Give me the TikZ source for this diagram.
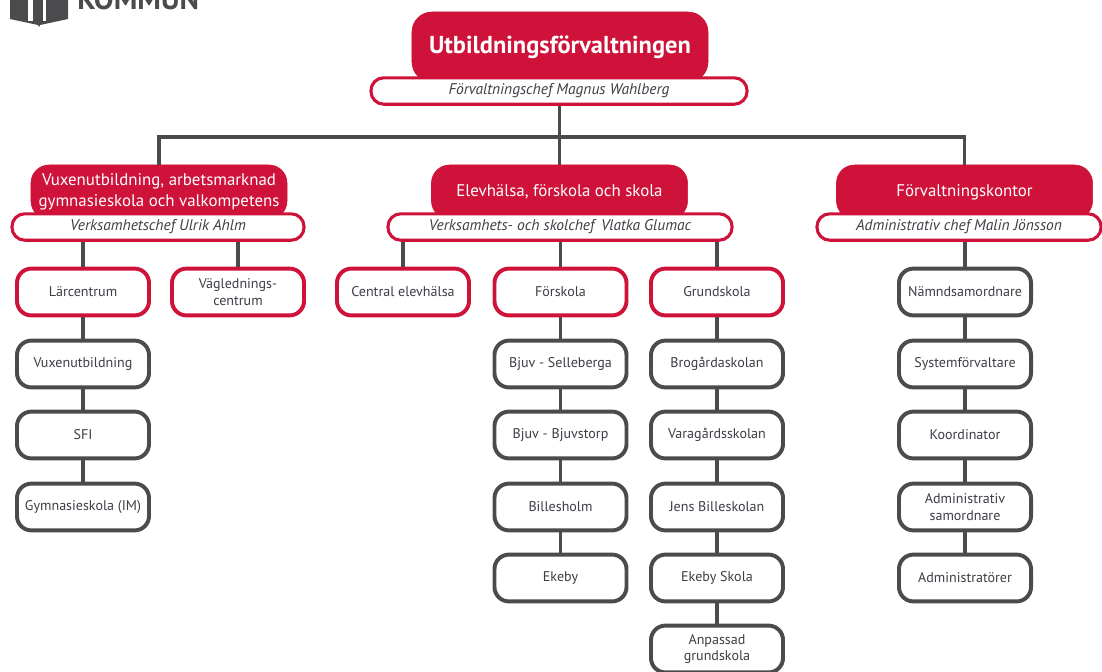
\documentclass[tikz,border=0pt]{standalone}
\usepackage{fontspec}
\setmainfont{PT Sans}
\usepackage{xcolor}
\usepackage{tikz}
\usetikzlibrary{calc}
\usetikzlibrary{positioning}
\definecolor{kred}{HTML}{CE1239}
\definecolor{kgray}{HTML}{4B4B4D}
\definecolor{ktext}{HTML}{3E3E46}
\tikzstyle{head} = [rectangle, rounded corners=.45cm, fill=kred, draw=kred, text=white, align=center, inner sep=0pt, minimum width=6.4cm, minimum height=1.35cm, font=\fontsize{12}{14.8}\selectfont, yshift=-.05cm]
\tikzstyle{chef} = [rectangle, rounded corners=.32cm, fill=white, draw=kred, line width=2.2pt, text=ktext, inner sep=0pt, minimum height=.66cm, font=\fontsize{11}{13}\selectfont\itshape]
\tikzstyle{unit} = [rectangle, rounded corners=.36cm, fill=white, line width=2.8pt, text=ktext, align=center, inner sep=0pt, minimum width=3.3cm, minimum height=1.17cm, font=\fontsize{10}{11.6}\selectfont]
\tikzstyle{unitred} = [unit, draw=kred]
\tikzstyle{unitgray} = [unit, draw=kgray]
\tikzstyle{conn} = [-, draw=kgray, line width=2.8pt]
\tikzstyle{bar} = [-, draw=kgray, line width=2.2pt]
\begin{document}
\begin{tikzpicture}[x=.025cm, y=-.025cm]
\useasboundingbox (0,0) rectangle (1102,671);
\clip (0,0) rectangle (1102,671);
% logo
\fill [kgray] (10,-5) -- (10,19) -- (38,25) -- (39,27) -- (40,25) -- (68,19) -- (68,-5) -- cycle;
\fill [white] (28,-5) rectangle (33,21);
\fill [white] (43,-5) rectangle (46,21);
\node [text=kgray, font=\fontsize{21}{24}\selectfont\bfseries, anchor=base west, inner sep=0pt] (logo) at (77,9) {KOMMUN};
% top
\node [head, minimum width=7.4cm, minimum height=1.75cm, rounded corners=.5cm, font=\fontsize{17.4}{20}\selectfont\bfseries] (utb) at (560,45) {Utbildningsförvaltningen};
\node [chef, minimum width=9.4cm] (utbchef) at (559,91) {Förvaltningschef Magnus Wahlberg};
% branches
\node [head] (vux) at (159,190) {Vuxenutbildning, arbetsmarknad\\gymnasieskola och valkompetens};
\node [chef, minimum width=7.3cm] (vuxchef) at (158,227) {Verksamhetschef Ulrik Ahlm};
\node [head] (elev) at (559.5,190) {Elevhälsa, förskola och skola};
\node [chef, minimum width=8.6cm] (elevchef) at (560,227) {Verksamhets- och skolchef\, Vlatka Glumac};
\node [head] (kont) at (964.5,190) {Förvaltningskontor};
\node [chef, minimum width=7.1cm] (kontchef) at (959,227) {Administrativ chef Malin Jönsson};
% column 1
\node [unitred] (lar) at (83,292) {Lärcentrum};
\node [unitred] (vag) at (238,292) {Väglednings-\\centrum};
\node [unitgray] (vuxutb) at (83,364) {Vuxenutbildning};
\node [unitgray] (sfi) at (83,435) {SFI};
\node [unitgray] (gym) at (83,507) {Gymnasieskola (IM)};
% column 2
\node [unitred] (cent) at (403,292) {Central elevhälsa};
\node [unitred] (forsk) at (560.5,292) {Förskola};
\node [unitgray] (sell) at (560.5,364) {Bjuv - Selleberga};
\node [unitgray] (bjuv) at (560.5,435) {Bjuv - Bjuvstorp};
\node [unitgray] (bill) at (560.5,507) {Billesholm};
\node [unitgray] (eke) at (560.5,578) {Ekeby};
% column 3
\node [unitred] (grund) at (717,292) {Grundskola};
\node [unitgray] (bro) at (717,364) {Brogårdaskolan};
\node [unitgray] (var) at (717,435) {Varagårdsskolan};
\node [unitgray] (jens) at (717,507) {Jens Billeskolan};
\node [unitgray] (ekes) at (717,578) {Ekeby Skola};
\node [unitgray] (anp) at (717,649) {Anpassad\\grundskola};
% column 4
\node [unitgray] (namn) at (965,292) {Nämndsamordnare};
\node [unitgray] (syst) at (965,364) {Systemförvaltare};
\node [unitgray] (koor) at (965,435) {Koordinator};
\node [unitgray] (adms) at (965,507) {Administrativ\\samordnare};
\node [unitgray] (adm) at (965,578) {Administratörer};
% connectors
\coordinate (bus) at (560,137);
\draw [conn] (utbchef.south -| elev.north) to (elev.north);
\draw [bar] (vux.north) |- (bus) -| (kont.north);
\draw [conn] (vuxchef.south -| lar.north) to (lar.north);
\draw [conn] (vuxchef.south -| vag.north) to (vag.north);
\draw [conn] (elevchef.south -| cent.north) to (cent.north);
\draw [conn] (elevchef.south -| forsk.north) to (forsk.north);
\draw [conn] (elevchef.south -| grund.north) to (grund.north);
\draw [conn] (kontchef.south -| namn.north) to (namn.north);
\foreach \a/\b in {lar/vuxutb, vuxutb/sfi, sfi/gym, forsk/sell, sell/bjuv, bjuv/bill, bill/eke, grund/bro, bro/var, var/jens, jens/ekes, ekes/anp, namn/syst, syst/koor, koor/adms, adms/adm}
  \draw [conn] (\a.south) to (\b.north);
\end{tikzpicture}
\end{document}
